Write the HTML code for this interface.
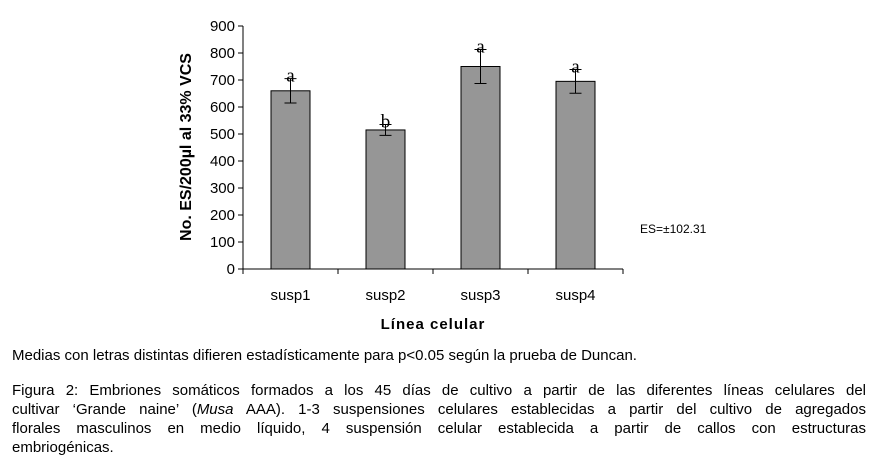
<!DOCTYPE html>
<html><head><meta charset="utf-8"><style>
body{margin:0;width:877px;height:473px;background:#fff;overflow:hidden;font-family:"Liberation Sans",Arial,sans-serif;}
svg{position:absolute;left:0;top:0}
.cap{position:absolute;left:12px;width:854px;font-size:15px;color:#000;line-height:19px;}
.ln{text-align:justify;text-align-last:justify;white-space:nowrap;overflow:visible}
.ln.last{text-align-last:left}
</style></head><body>
<svg width="877" height="340">
<g id="g"></g>
</svg>
<div class="cap" style="top:346px">Medias con letras distintas difieren estadísticamente para p&lt;0.05 según la prueba de Duncan.</div>
<div class="cap" style="top:381px">
<div class="ln">Figura 2: Embriones somáticos formados a los 45 días de cultivo a partir de las diferentes líneas celulares del</div>
<div class="ln">cultivar ‘Grande naine’ (<i>Musa</i> AAA). 1-3 suspensiones celulares establecidas a partir del cultivo de agregados</div>
<div class="ln">florales masculinos en medio líquido, 4 suspensión celular establecida a partir de callos con estructuras</div>
<div class="ln last">embriogénicas.</div>
</div>
<script>
const categories=["susp1","susp2","susp3","susp4"];
const values=[660,515,750,695];
const errors=[45,20,63,44];
const letters=["a","b","a","a"];
const yTicks=[0,100,200,300,400,500,600,700,800,900];
const NS="http://www.w3.org/2000/svg";
const g=document.getElementById("g");
const x0=243,x1=623,y0=269,y1=26,ymax=900;
const bw=(x1-x0)/categories.length;
const Y=v=>y0-(v/ymax)*(y0-y1);
const X=i=>x0+bw*(i+0.5);
function mk(t,a,txt){const e=document.createElementNS(NS,t);for(const k in a)e.setAttribute(k,a[k]);if(txt!==undefined)e.textContent=txt;g.appendChild(e);return e;}
let e;
e=mk("line",{x1:x0,y1:y1,x2:x0,y2:y0,stroke:"#000"});


e=mk("line",{x1:x0,y1:y0,x2:x1,y2:y0,stroke:"#000"});


yTicks.forEach(v=>{
 mk("line",{x1:x0-5,y1:Y(v),x2:x0,y2:Y(v),stroke:"#000"});
 e=mk("text",{x:x0-8,y:Y(v)+5,"text-anchor":"end","font-size":"15"},v);
 
 
});
for(let i=0;i<=categories.length;i++)mk("line",{x1:x0+bw*i,y1:y0,x2:x0+bw*i,y2:y0+5,stroke:"#000"});
categories.forEach((c,i)=>{
 const cx=X(i),w=39;
 e=mk("rect",{x:cx-w/2,y:Y(values[i]),width:w,height:y0-Y(values[i]),fill:"#969696",stroke:"#000","stroke-width":"1"});
 
 
 const t=Y(values[i]+errors[i]),b=Y(values[i]-errors[i]);
 e=mk("path",{d:`M${cx},${t}V${b}M${cx-6},${t}H${cx+6}M${cx-6},${b}H${cx+6}`,stroke:"#000",fill:"none"});
 
 
 e=mk("text",{x:cx,y:Y(values[i]+errors[i])+3,"text-anchor":"middle","font-size":"19","font-family":"Liberation Serif,serif"},letters[i]);
 
 
 e=mk("text",{x:cx,y:300,"text-anchor":"middle","font-size":"15"},c);
 
 
});
e=mk("text",{x:433,y:329,"text-anchor":"middle","font-size":"15","font-weight":"bold","letter-spacing":"1"},"Línea celular");


e=mk("text",{x:0,y:0,"text-anchor":"middle","font-size":"16","font-weight":"bold",transform:"translate(191,147) rotate(-90)"},"No. ES/200µl al 33% VCS");


e=mk("text",{x:640,y:233,"font-size":"12"},"ES=±102.31");


</script>
</body></html>
